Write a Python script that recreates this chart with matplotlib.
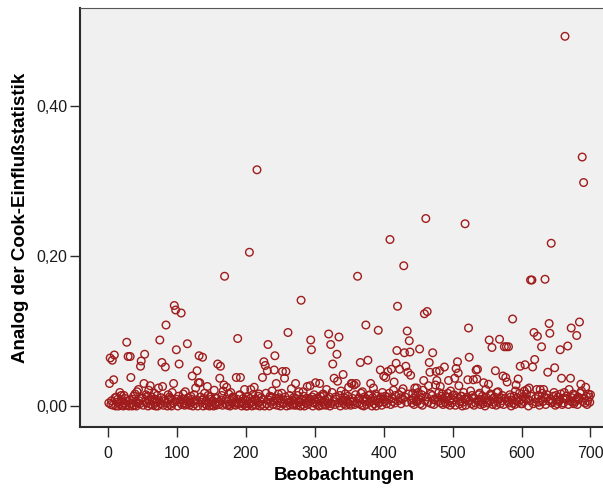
import matplotlib
matplotlib.use('Agg')
import matplotlib.pyplot as plt
from matplotlib.ticker import FuncFormatter


# Cook distance analogue per observation, in 1/1000, blocks of 100 observations
cook_001_100 = [
    4, 30, 64, 2, 7, 61, 1, 35, 68, 11,
    0, 12, 5, 9, 0, 3, 18, 6, 14, 1,
    7, 0, 14, 4, 10, 1, 85, 6, 66, 0,
    8, 66, 38, 3, 0, 9, 13, 1, 16, 5,
    0, 19, 4, 22, 7, 3, 53, 60, 10, 11,
    1, 30, 69, 6, 15, 4, 13, 0, 21, 8,
    27, 2, 12, 8, 1, 5, 17, 9, 0, 5,
    14, 0, 24, 7, 88, 3, 11, 58, 26, 1,
    6, 9, 52, 108, 4, 0, 15, 8, 12, 2,
    10, 0, 18, 4, 30, 134, 6, 128, 75, 9,
]
cook_101_200 = [
    0, 13, 56, 5, 8, 124, 2, 9, 16, 4,
    1, 19, 7, 2, 83, 11, 6, 1, 4, 13,
    9, 40, 0, 6, 15, 3, 24, 8, 47, 0,
    31, 67, 31, 12, 5, 8, 65, 0, 10, 17,
    3, 7, 1, 26, 14, 4, 0, 12, 9, 2,
    6, 7, 0, 21, 3, 11, 1, 10, 56, 5,
    2, 37, 53, 8, 14, 1, 20, 28, 173, 3,
    9, 25, 1, 6, 16, 2, 0, 18, 7, 4,
    12, 11, 2, 5, 1, 38, 9, 90, 3, 14,
    15, 38, 6, 0, 4, 10, 2, 22, 8, 0,
]
cook_201_300 = [
    7, 0, 12, 3, 205, 10, 22, 5, 0, 15,
    2, 25, 8, 9, 1, 315, 4, 13, 16, 0,
    6, 11, 2, 38, 9, 59, 0, 54, 17, 3,
    47, 82, 8, 0, 13, 5, 12, 20, 2, 6,
    48, 67, 10, 30, 1, 7, 16, 11, 4, 0,
    9, 17, 46, 3, 4, 37, 12, 46, 0, 8,
    98, 5, 14, 1, 6, 23, 2, 8, 11, 1,
    3, 30, 9, 1, 14, 6, 19, 5, 0, 141,
    8, 2, 19, 13, 0, 7, 4, 10, 26, 2,
    6, 10, 27, 88, 75, 12, 0, 4, 15, 9,
]
cook_301_400 = [
    31, 5, 2, 11, 9, 0, 30, 13, 7, 1,
    5, 16, 14, 2, 8, 1, 22, 10, 4, 96,
    12, 0, 82, 3, 18, 56, 6, 37, 2, 12,
    9, 69, 33, 4, 92, 14, 0, 20, 7, 7,
    42, 3, 11, 16, 1, 8, 5, 13, 25, 3,
    6, 1, 30, 30, 10, 6, 28, 2, 15, 30,
    4, 173, 9, 11, 3, 58, 17, 1, 19, 8,
    0, 12, 6, 108, 2, 9, 61, 14, 5, 15,
    30, 7, 0, 11, 24, 3, 7, 16, 0, 13,
    8, 101, 4, 5, 48, 12, 1, 18, 9, 40,
]
cook_401_500 = [
    6, 13, 38, 3, 12, 46, 8, 17, 222, 2,
    49, 10, 6, 21, 32, 4, 14, 57, 74, 133,
    7, 15, 49, 11, 3, 19, 9, 23, 187, 71,
    12, 53, 5, 100, 45, 16, 87, 72, 41, 8,
    4, 17, 10, 2, 24, 13, 6, 24, 6, 18,
    9, 76, 3, 11, 15, 1, 21, 34, 123, 7,
    250, 12, 126, 5, 27, 58, 45, 16, 3, 14,
    71, 9, 2, 8, 28, 46, 34, 11, 6, 18,
    47, 26, 4, 13, 16, 2, 9, 52, 5, 12,
    3, 12, 17, 34, 7, 1, 20, 10, 4, 14,
]
cook_501_600 = [
    8, 15, 37, 1, 50, 11, 59, 44, 27, 3,
    6, 13, 13, 0, 5, 18, 9, 243, 1, 9,
    12, 35, 104, 65, 7, 20, 3, 14, 11, 35,
    1, 10, 4, 48, 36, 49, 6, 15, 17, 2,
    9, 6, 13, 3, 31, 8, 0, 22, 11, 5,
    4, 29, 88, 7, 16, 14, 78, 2, 10, 5,
    12, 47, 1, 18, 6, 19, 9, 89, 3, 11,
    7, 14, 40, 2, 79, 10, 38, 79, 32, 6,
    79, 4, 15, 12, 0, 8, 116, 4, 13, 2,
    20, 28, 7, 11, 36, 6, 17, 53, 3, 9,
]
cook_601_700 = [
    3, 12, 6, 20, 55, 9, 16, 22, 9, 0,
    24, 7, 168, 13, 168, 52, 3, 98, 62, 10,
    5, 22, 93, 14, 5, 1, 22, 8, 79, 17,
    6, 22, 11, 169, 2, 11, 15, 45, 7, 110,
    97, 9, 217, 4, 6, 13, 18, 51, 1, 14,
    8, 3, 12, 6, 8, 75, 16, 37, 2, 10,
    4, 18, 493, 9, 13, 10, 80, 2, 22, 7,
    37, 104, 11, 5, 16, 3, 14, 6, 9, 94,
    2, 12, 9, 112, 17, 29, 20, 332, 6, 298,
    10, 4, 25, 13, 2, 7, 16, 12, 5, 15,
]

y_ticks = [0.0, 0.2, 0.4]
x_ticks = [0, 100, 200, 300, 400, 500, 600, 700]

MARKER_COLOR = '#a01c1c'
BG_COLOR = '#f0f0f0'


def main():
    plt.rcParams['font.family'] = ['Liberation Sans', 'DejaVu Sans']

    cook = (cook_001_100 + cook_101_200 + cook_201_300 + cook_301_400
            + cook_401_500 + cook_501_600 + cook_601_700)
    values = [v / 1000 for v in cook]
    obs = list(range(1, len(values) + 1))

    fig = plt.figure(figsize=(6.03, 4.90), dpi=100)
    ax = fig.add_axes([0.1327, 0.1286, 0.875, 0.855])
    ax.set_facecolor(BG_COLOR)

    ax.scatter(obs, values, s=30, facecolors='none', edgecolors=MARKER_COLOR,
               linewidths=1.0, zorder=3)

    ax.set_xlim(-40.8, 724.9)
    ax.set_ylim(-0.028, 0.5307)
    ax.set_xticks(x_ticks)
    ax.set_yticks(y_ticks)
    ax.yaxis.set_major_formatter(FuncFormatter(lambda v, p: f'{v:.2f}'.replace('.', ',')))

    ax.spines['left'].set_linewidth(1.5)
    ax.spines['bottom'].set_linewidth(1.5)
    ax.spines['left'].set_color('#2b2b2b')
    ax.spines['bottom'].set_color('#2b2b2b')
    ax.spines['top'].set_linewidth(0.8)
    ax.spines['top'].set_color('#555555')
    ax.spines['right'].set_visible(False)
    ax.tick_params(axis='both', direction='out', length=7, width=1.0,
                   color='#2b2b2b', labelsize=11.5, labelcolor='#1a1a1a')
    ax.tick_params(axis='x', pad=7)
    ax.tick_params(axis='y', pad=2)

    ax.set_xlabel('Beobachtungen', fontsize=13.5, fontweight='bold', labelpad=4)
    ax.set_ylabel('Analog der Cook-Einflußstatistik', fontsize=13.5, fontweight='bold', labelpad=5)

    fig.savefig('out.png', dpi=100)


if __name__ == '__main__':
    main()
